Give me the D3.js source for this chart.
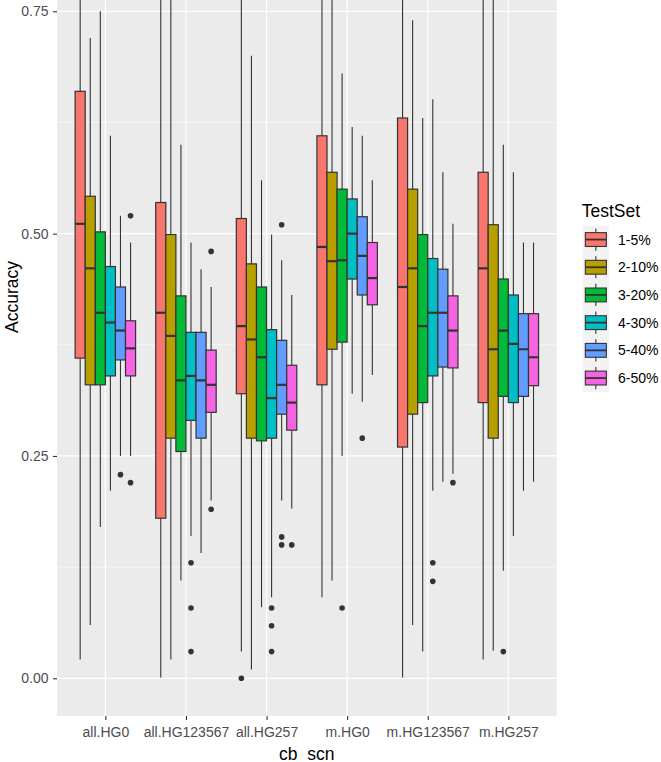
<!DOCTYPE html>
<html>
<head>
<meta charset="utf-8">
<script src="https://cdn.jsdelivr.net/npm/d3@7"></script>
<style>
  html, body { margin: 0; padding: 0; background: #ffffff; }
  svg { display: block; }
  text { font-family: "Liberation Sans", Arial, sans-serif; }
</style>
</head>
<body>
<svg id="chart" width="661" height="762"></svg>
<script>
// ---------- data ----------
const categories = ["all.HG0", "all.HG123567", "all.HG257", "m.HG0", "m.HG123567", "m.HG257"];
const testSets = ["1-5%", "2-10%", "3-20%", "4-30%", "5-40%", "6-50%"];
const palette = ["#F8766D", "#B79F00", "#00BA38", "#00BFC4", "#619CFF", "#F564E3"];

const yTicks = [0, 0.25, 0.5, 0.75];
const yTickLabels = ["0.00", "0.25", "0.50", "0.75"];
const yMinorTicks = [0.125, 0.375, 0.625];

// rows = categories, columns = test sets
const whiskerLow = [
  [0.021, 0.060, 0.170, 0.211, 0.250, 0.250],
  [0.001, 0.021, 0.110, 0.160, 0.141, 0.200],
  [0.030, 0.010, 0.080, 0.091, 0.200, 0.191],
  [0.091, 0.110, 0.250, 0.320, 0.311, 0.341],
  [0.001, 0.060, 0.030, 0.211, 0.221, 0.230],
  [0.021, 0.031, 0.121, 0.160, 0.211, 0.221]
];
const q1 = [
  [0.360, 0.330, 0.330, 0.340, 0.358, 0.340],
  [0.180, 0.270, 0.255, 0.290, 0.270, 0.299],
  [0.320, 0.270, 0.267, 0.270, 0.297, 0.279],
  [0.330, 0.370, 0.378, 0.449, 0.431, 0.420],
  [0.260, 0.297, 0.310, 0.340, 0.350, 0.349],
  [0.310, 0.270, 0.317, 0.310, 0.317, 0.329]
];
const median = [
  [0.511, 0.461, 0.411, 0.400, 0.391, 0.371],
  [0.411, 0.385, 0.335, 0.340, 0.335, 0.330],
  [0.396, 0.381, 0.361, 0.315, 0.330, 0.310],
  [0.485, 0.469, 0.470, 0.500, 0.475, 0.450],
  [0.440, 0.461, 0.396, 0.411, 0.411, 0.391],
  [0.461, 0.370, 0.391, 0.376, 0.370, 0.361]
];
const q3 = [
  [0.660, 0.542, 0.502, 0.463, 0.440, 0.402],
  [0.535, 0.499, 0.430, 0.389, 0.389, 0.369],
  [0.517, 0.466, 0.440, 0.392, 0.380, 0.352],
  [0.610, 0.569, 0.550, 0.539, 0.519, 0.490],
  [0.630, 0.550, 0.499, 0.472, 0.460, 0.430],
  [0.569, 0.510, 0.449, 0.431, 0.410, 0.410]
];
const whiskerHigh = [
  [0.800, 0.720, 0.750, 0.610, 0.520, 0.490],
  [0.800, 0.800, 0.600, 0.490, 0.460, 0.440],
  [0.800, 0.700, 0.560, 0.499, 0.470, 0.431],
  [0.800, 0.800, 0.680, 0.620, 0.610, 0.560],
  [0.800, 0.740, 0.630, 0.651, 0.569, 0.511],
  [0.800, 0.800, 0.600, 0.569, 0.490, 0.490]
];
// [category index, test set index, value]
const outliers = [
  [0, 4, 0.229], [0, 5, 0.220], [0, 5, 0.520],
  [1, 3, 0.130], [1, 3, 0.079], [1, 3, 0.030], [1, 5, 0.480], [1, 5, 0.190],
  [2, 0, 0.000], [2, 3, 0.079], [2, 3, 0.059], [2, 3, 0.030],
  [2, 4, 0.510], [2, 4, 0.159], [2, 4, 0.150], [2, 5, 0.150],
  [3, 2, 0.079], [3, 4, 0.270],
  [4, 3, 0.130], [4, 3, 0.109], [4, 5, 0.220],
  [5, 2, 0.030]
];

// ---------- layout ----------
const W = 661, H = 762;
const panel = { left: 57, right: 556.7, top: 0, bottom: 716 };
const svg = d3.select("#chart");
svg.append("rect").attr("width", W).attr("height", H).attr("fill", "#ffffff");

const y = d3.scaleLinear().domain([-0.0424, 0.7627]).range([panel.bottom, panel.top]);
const x = d3.scalePoint().domain(categories).range([panel.left, panel.right]).padding(0.6);
const dodge = d3.scaleBand().domain(testSets)
  .range([-x.step() * 0.375, x.step() * 0.375]).paddingInner(0);
const color = d3.scaleOrdinal().domain(testSets).range(palette);

// panel background
svg.append("rect")
  .attr("x", panel.left).attr("y", panel.top)
  .attr("width", panel.right - panel.left).attr("height", panel.bottom - panel.top)
  .attr("fill", "#EBEBEB");

svg.append("clipPath").attr("id", "pclip").append("rect")
  .attr("x", panel.left).attr("y", panel.top)
  .attr("width", panel.right - panel.left).attr("height", panel.bottom - panel.top);

const grid = svg.append("g");
grid.selectAll(".minor").data(yMinorTicks).join("line")
  .attr("x1", panel.left).attr("x2", panel.right)
  .attr("y1", d => y(d)).attr("y2", d => y(d))
  .attr("stroke", "#ffffff").attr("stroke-width", 0.6);
grid.selectAll(".major").data(yTicks).join("line")
  .attr("x1", panel.left).attr("x2", panel.right)
  .attr("y1", d => y(d)).attr("y2", d => y(d))
  .attr("stroke", "#ffffff").attr("stroke-width", 1.2);
grid.selectAll(".vmajor").data(categories).join("line")
  .attr("x1", d => x(d)).attr("x2", d => x(d))
  .attr("y1", panel.top).attr("y2", panel.bottom)
  .attr("stroke", "#ffffff").attr("stroke-width", 1.2);

// ---------- boxes ----------
const boxes = [];
categories.forEach((c, i) => testSets.forEach((s, j) => {
  boxes.push({ c, s, lo: whiskerLow[i][j], q1: q1[i][j], med: median[i][j], q3: q3[i][j], hi: whiskerHigh[i][j] });
}));

const plot = svg.append("g").attr("clip-path", "url(#pclip)");
const bw = dodge.bandwidth();
const cx = d => x(d.c) + dodge(d.s) + bw / 2;

const g = plot.selectAll(".box").data(boxes).join("g");
g.append("line")
  .attr("x1", cx).attr("x2", cx)
  .attr("y1", d => y(d.q3)).attr("y2", d => y(d.hi))
  .attr("stroke", "#333333").attr("stroke-width", 1.1);
g.append("line")
  .attr("x1", cx).attr("x2", cx)
  .attr("y1", d => y(d.q1)).attr("y2", d => y(d.lo))
  .attr("stroke", "#333333").attr("stroke-width", 1.1);
g.append("rect")
  .attr("x", d => x(d.c) + dodge(d.s))
  .attr("width", bw)
  .attr("y", d => y(d.q3))
  .attr("height", d => y(d.q1) - y(d.q3))
  .attr("fill", d => color(d.s))
  .attr("stroke", "#333333").attr("stroke-width", 1.2);
g.append("line")
  .attr("x1", d => x(d.c) + dodge(d.s)).attr("x2", d => x(d.c) + dodge(d.s) + bw)
  .attr("y1", d => y(d.med)).attr("y2", d => y(d.med))
  .attr("stroke", "#333333").attr("stroke-width", 2.2);

plot.selectAll(".out").data(outliers).join("circle")
  .attr("cx", d => x(categories[d[0]]) + dodge(testSets[d[1]]) + bw / 2)
  .attr("cy", d => y(d[2]))
  .attr("r", 2.8)
  .attr("fill", "#333333");

// ---------- axes ----------
const yAxis = d3.axisLeft(y).tickValues(yTicks)
  .tickFormat((d, i) => yTickLabels[i]).tickSize(4).tickPadding(4.5);
const ya = svg.append("g").attr("transform", `translate(${panel.left},0)`).call(yAxis);
ya.select(".domain").remove();
ya.selectAll(".tick line").attr("stroke", "#333333").attr("stroke-width", 1.1);
ya.selectAll(".tick text").attr("fill", "#4D4D4D").style("font-size", "14px")
  .style("font-family", '"Liberation Sans", Arial, sans-serif');

const xAxis = d3.axisBottom(x).tickSize(4).tickPadding(7.5);
const xa = svg.append("g").attr("transform", `translate(0,${panel.bottom})`).call(xAxis);
xa.select(".domain").remove();
xa.selectAll(".tick line").attr("stroke", "#333333").attr("stroke-width", 1.1);
xa.selectAll(".tick text").attr("fill", "#4D4D4D").style("font-size", "14px")
  .style("font-family", '"Liberation Sans", Arial, sans-serif');

svg.append("text")
  .attr("x", (panel.left + panel.right) / 2).attr("y", 759.5)
  .attr("text-anchor", "middle").attr("fill", "#000000")
  .style("font-size", "17.5px").text("cb_scn");

svg.append("text")
  .attr("transform", `translate(18,297) rotate(-90)`)
  .attr("text-anchor", "middle").attr("fill", "#000000")
  .style("font-size", "17.5px").text("Accuracy");

// ---------- legend ----------
const legend = svg.append("g").attr("transform", "translate(582.7,225.7)");
const keyW = 26.3, keyH = 27.7;
legend.append("text").attr("x", -1).attr("y", -9.2)
  .attr("fill", "#000000").style("font-size", "17.5px").text("TestSet");
const items = legend.selectAll(".item").data(testSets).join("g")
  .attr("transform", (d, i) => `translate(0,${i * keyH})`);
items.append("rect").attr("width", keyW).attr("height", keyH).attr("fill", "#F2F2F2");
items.append("line")
  .attr("x1", keyW / 2).attr("x2", keyW / 2)
  .attr("y1", keyH * 0.1).attr("y2", keyH * 0.9)
  .attr("stroke", "#333333").attr("stroke-width", 1.1);
items.append("rect")
  .attr("x", keyW * 0.1).attr("width", keyW * 0.8)
  .attr("y", keyH * 0.25).attr("height", keyH * 0.5)
  .attr("fill", d => color(d)).attr("stroke", "#333333").attr("stroke-width", 1.1);
items.append("line")
  .attr("x1", keyW * 0.1).attr("x2", keyW * 0.9)
  .attr("y1", keyH / 2).attr("y2", keyH / 2)
  .attr("stroke", "#333333").attr("stroke-width", 1.8);
items.append("text")
  .attr("x", keyW + 9).attr("y", keyH / 2).attr("dy", "0.36em")
  .attr("fill", "#000000").style("font-size", "14px").text(d => d);
</script>
</body>
</html>
